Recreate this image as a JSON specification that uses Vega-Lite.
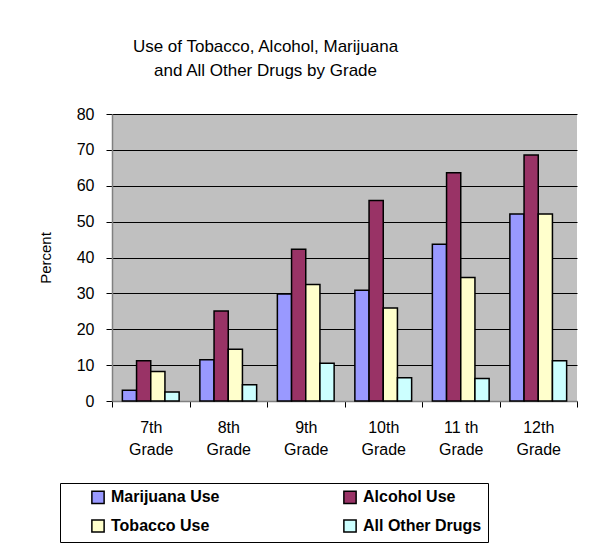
{
  "$schema": "https://vega.github.io/schema/vega-lite/v6.json",
  "autosize": {"type": "none"},
  "width": 465,
  "height": 287,
  "padding": {"left": 112, "top": 114, "right": 15, "bottom": 145},
  "background": "white",
  "config": {
    "font": "Liberation Sans",
    "view": {"fill": "#C0C0C0", "stroke": null}
  },
  "title": {
    "text": ["Use of Tobacco, Alcohol, Marijuana", "and All Other Drugs by Grade"],
    "fontSize": 17,
    "fontWeight": "normal",
    "color": "black",
    "font": "Liberation Sans",
    "lineHeight": 24,
    "anchor": "middle",
    "dx": -79,
    "offset": 26
  },
  "data": {
    "values": [
      {"grade": "7th Grade", "series": "Marijuana Use", "value": 3.0},
      {"grade": "7th Grade", "series": "Alcohol Use", "value": 11.2},
      {"grade": "7th Grade", "series": "Tobacco Use", "value": 8.2},
      {"grade": "7th Grade", "series": "All Other Drugs", "value": 2.5},
      {"grade": "8th Grade", "series": "Marijuana Use", "value": 11.5},
      {"grade": "8th Grade", "series": "Alcohol Use", "value": 25.1},
      {"grade": "8th Grade", "series": "Tobacco Use", "value": 14.4},
      {"grade": "8th Grade", "series": "All Other Drugs", "value": 4.5},
      {"grade": "9th Grade", "series": "Marijuana Use", "value": 29.8},
      {"grade": "9th Grade", "series": "Alcohol Use", "value": 42.3},
      {"grade": "9th Grade", "series": "Tobacco Use", "value": 32.5},
      {"grade": "9th Grade", "series": "All Other Drugs", "value": 10.5},
      {"grade": "10th Grade", "series": "Marijuana Use", "value": 30.9},
      {"grade": "10th Grade", "series": "Alcohol Use", "value": 55.9},
      {"grade": "10th Grade", "series": "Tobacco Use", "value": 25.9},
      {"grade": "10th Grade", "series": "All Other Drugs", "value": 6.5},
      {"grade": "11 th Grade", "series": "Marijuana Use", "value": 43.7},
      {"grade": "11 th Grade", "series": "Alcohol Use", "value": 63.6},
      {"grade": "11 th Grade", "series": "Tobacco Use", "value": 34.4},
      {"grade": "11 th Grade", "series": "All Other Drugs", "value": 6.3},
      {"grade": "12th Grade", "series": "Marijuana Use", "value": 52.1},
      {"grade": "12th Grade", "series": "Alcohol Use", "value": 68.6},
      {"grade": "12th Grade", "series": "Tobacco Use", "value": 52.1},
      {"grade": "12th Grade", "series": "All Other Drugs", "value": 11.2}
    ]
  },
  "mark": {"type": "bar", "stroke": "black", "strokeWidth": 1.5},
  "encoding": {
    "x": {
      "field": "grade",
      "type": "nominal",
      "sort": null,
      "scale": {"paddingInner": 0, "paddingOuter": 0},
      "axis": {
        "title": null,
        "labelAngle": 0,
        "labelExpr": "isString(datum.value) ? [replace(datum.value, ' Grade', ''), 'Grade'] : ''",
        "labelFontSize": 16,
        "labelLineHeight": 22,
        "labelColor": "black",
        "labelPadding": 12,
        "labelBaseline": "top",
        "tickBand": "extent",
        "ticks": true,
        "tickSize": 6,
        "tickColor": "black",
        "domainColor": "#808080",
        "domainWidth": 1.5,
        "grid": false
      }
    },
    "xOffset": {
      "field": "series",
      "type": "nominal",
      "sort": ["Marijuana Use", "Alcohol Use", "Tobacco Use", "All Other Drugs"],
      "scale": {"paddingInner": 0, "paddingOuter": 0.73}
    },
    "y": {
      "field": "value",
      "type": "quantitative",
      "scale": {"domain": [0, 80], "nice": false},
      "axis": {
        "title": "Percent",
        "titleFontSize": 15,
        "titleFontWeight": "normal",
        "titleColor": "black",
        "titlePadding": 23,
        "values": [0, 10, 20, 30, 40, 50, 60, 70, 80],
        "labelFontSize": 16,
        "labelColor": "black",
        "labelPadding": 12,
        "tickSize": 6,
        "tickColor": "black",
        "domainColor": "#808080",
        "domainWidth": 1.5,
        "grid": true,
        "gridColor": "black",
        "gridWidth": 1,
        "gridOpacity": 1
      }
    },
    "color": {
      "field": "series",
      "type": "nominal",
      "scale": {
        "domain": ["Marijuana Use", "Alcohol Use", "Tobacco Use", "All Other Drugs"],
        "range": ["#9999FF", "#993366", "#FFFFCC", "#CCFFFF"]
      },
      "legend": {
        "title": null,
        "orient": "none",
        "legendX": -52,
        "legendY": 369,
        "columns": 2,
        "direction": "horizontal",
        "strokeColor": "black",
        "fillColor": "white",
        "padding": 6,
        "symbolType": "square",
        "symbolSize": 150,
        "symbolStrokeColor": "black",
        "symbolStrokeWidth": 1.5,
        "symbolOffset": 24,
        "labelOffset": 5,
        "labelFontSize": 16,
        "labelFontWeight": "bold",
        "labelColor": "black",
        "columnPadding": 98,
        "rowPadding": 9
      }
    }
  }
}
